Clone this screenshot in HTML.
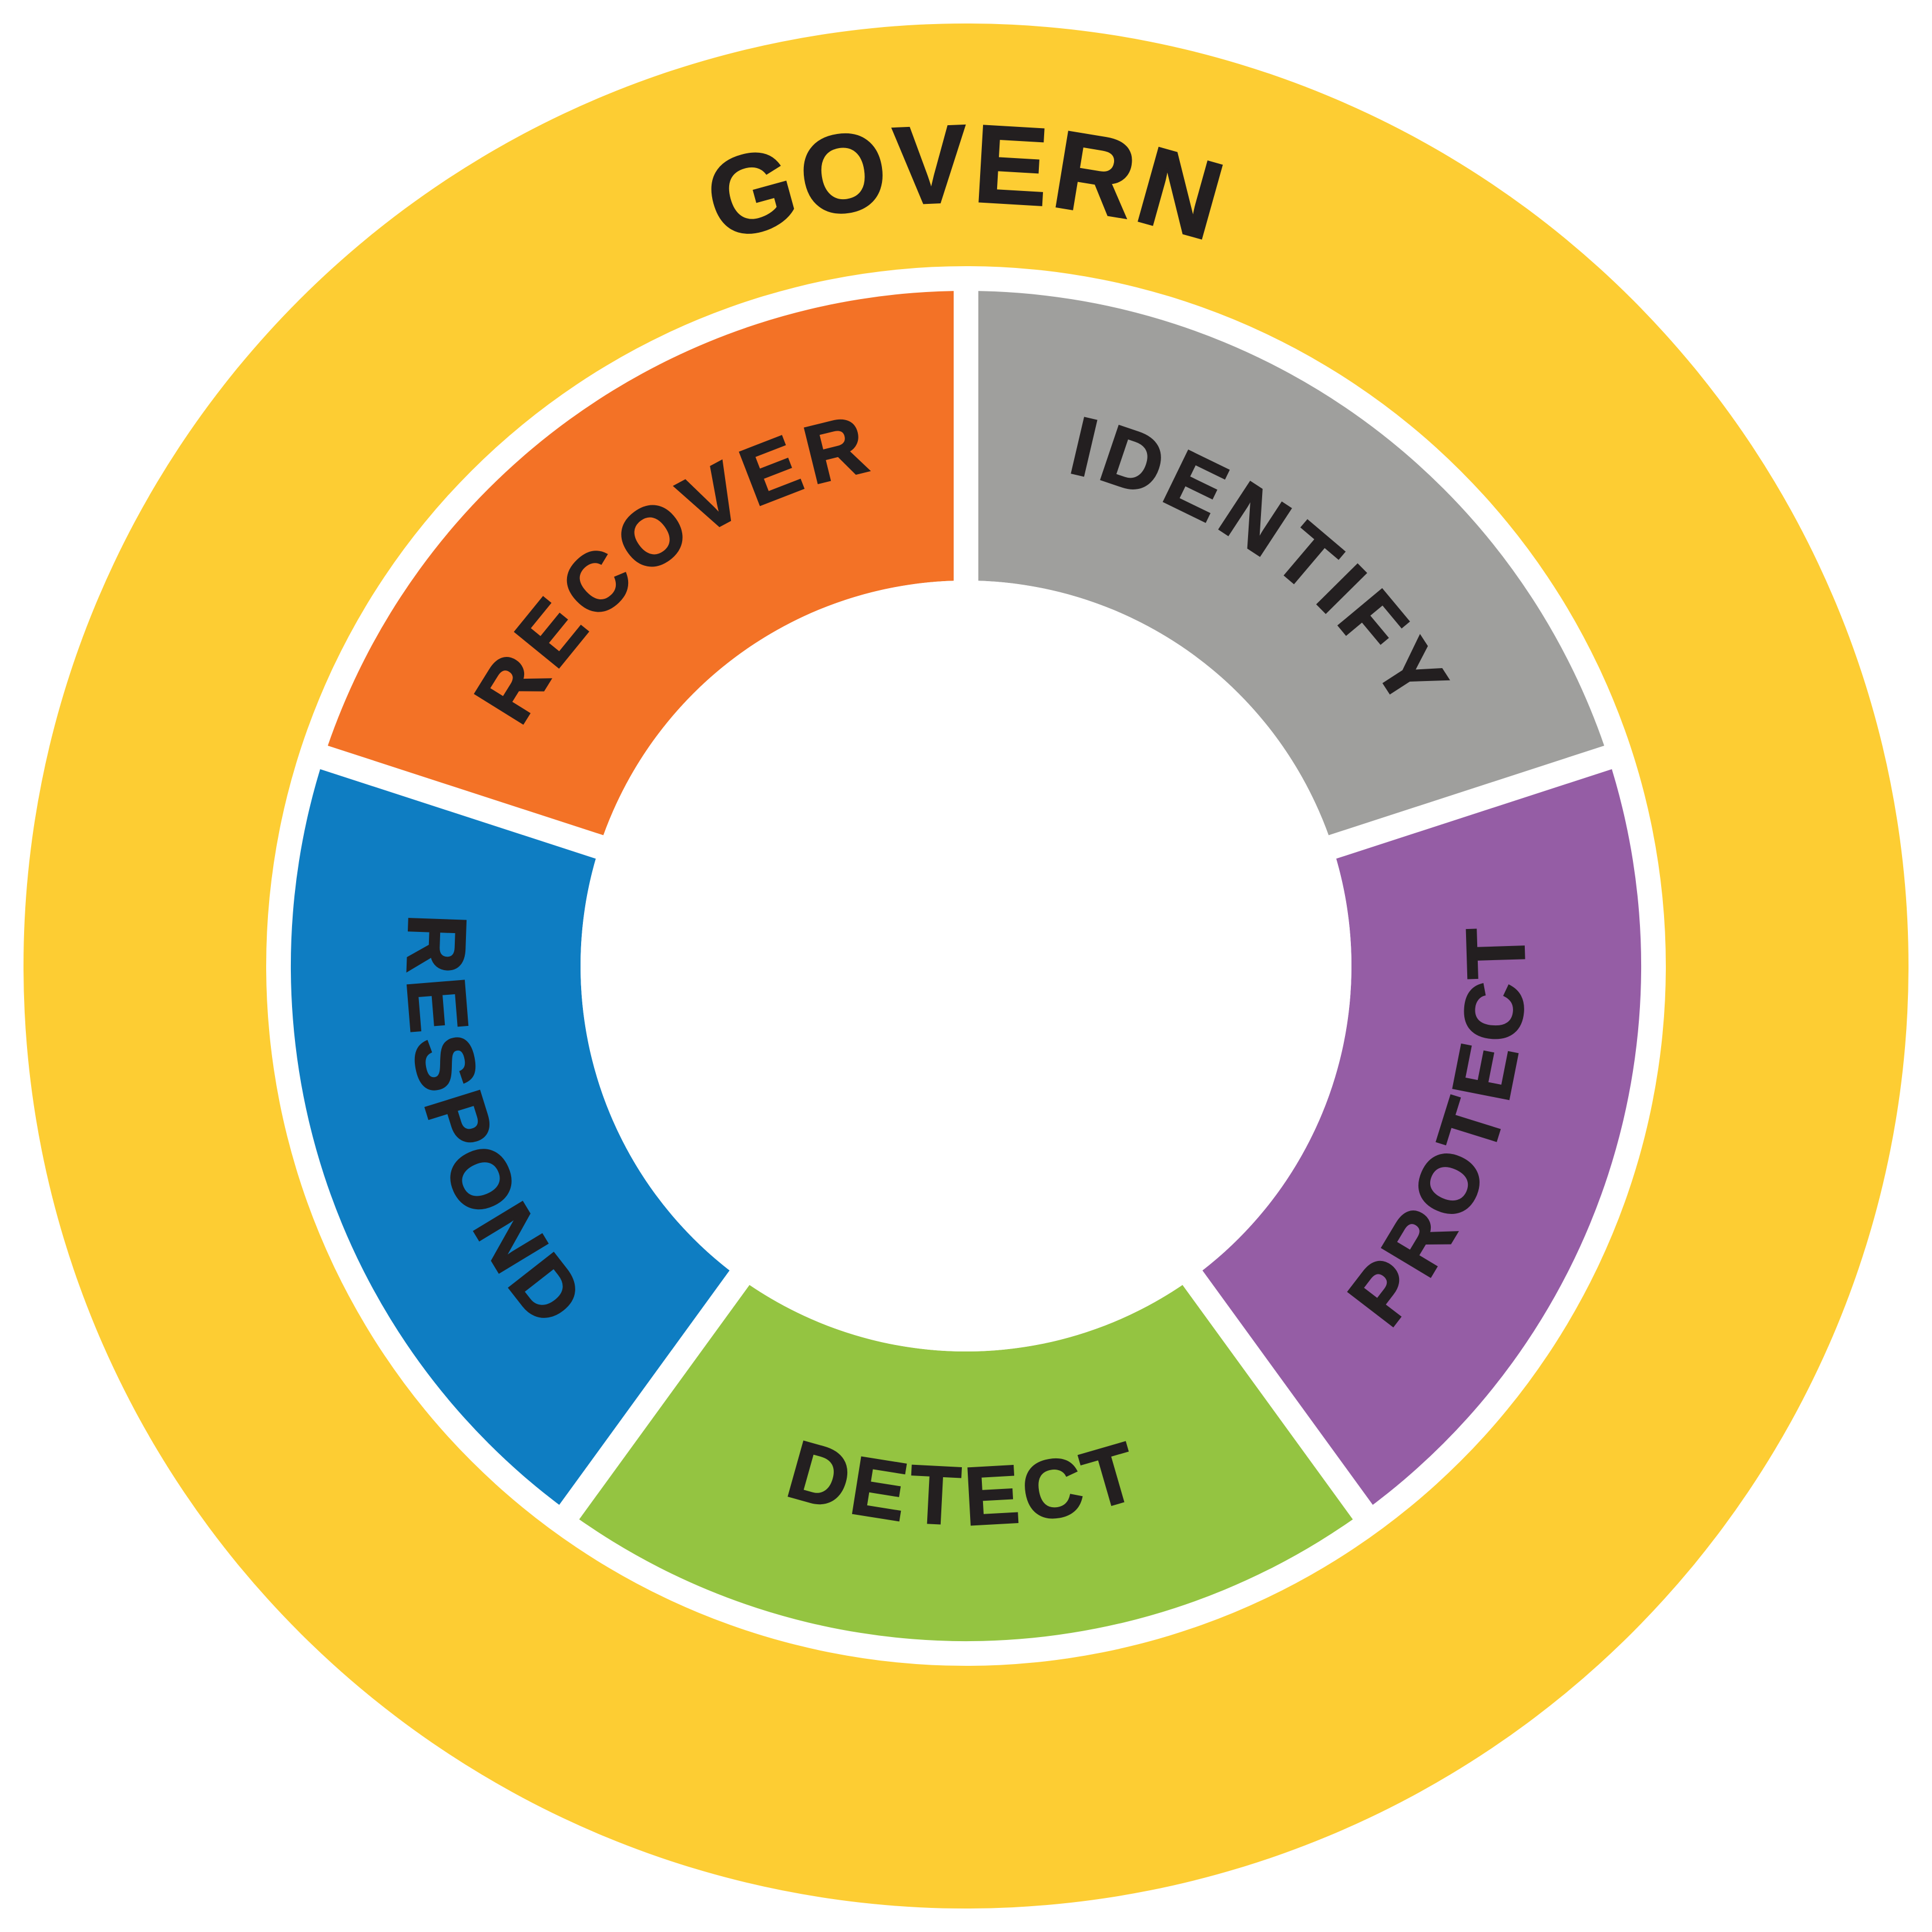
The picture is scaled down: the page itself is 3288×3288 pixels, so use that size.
<!DOCTYPE html>
<html><head><meta charset="utf-8"><style>
html,body{margin:0;padding:0;background:#fff;}
svg{display:block;}
text{font-family:"Liberation Sans",sans-serif;font-weight:bold;fill:#231F20;stroke:#231F20;stroke-width:3;}
</style></head><body>
<svg width="3288" height="3288" viewBox="0 0 3288 3288" xmlns="http://www.w3.org/2000/svg">
<defs>
<path id="cwG" d="M1644,2944 A1300,1300 0 1 1 1644,344 A1300,1300 0 1 1 1644,2944"/>
<path id="cwT" d="M1644,2502 A858,858 0 1 1 1644,786 A858,858 0 1 1 1644,2502"/>
<path id="ccwB" d="M1644,694 A950,950 0 1 0 1644,2594 A950,950 0 1 0 1644,694"/>
</defs>
<rect width="3288" height="3288" fill="#fff"/>
<circle cx="1644" cy="1644" r="1604" fill="#FDCD33"/>
<circle cx="1644" cy="1644" r="1191" fill="#fff"/>
<g transform="translate(1644,1644)">
<path d="M0,-1149 A1149,1149 0 0 1 1092.8,-355.1 L623.9,-202.7 A656,656 0 0 0 0,-656 Z" fill="#9F9F9D"/>
<path d="M1092.8,-355.1 A1149,1149 0 0 1 675.4,929.6 L385.6,530.7 A656,656 0 0 0 623.9,-202.7 Z" fill="#955DA5"/>
<path d="M675.4,929.6 A1149,1149 0 0 1 -675.4,929.6 L-385.6,530.7 A656,656 0 0 0 385.6,530.7 Z" fill="#94C441"/>
<path d="M-675.4,929.6 A1149,1149 0 0 1 -1092.8,-355.1 L-623.9,-202.7 A656,656 0 0 0 -385.6,530.7 Z" fill="#0E7DC2"/>
<path d="M-1092.8,-355.1 A1149,1149 0 0 1 0,-1149 L0,-656 A656,656 0 0 0 -623.9,-202.7 Z" fill="#F37226"/>
<g stroke="#fff" stroke-width="42">
<line x1="0" y1="0" x2="0" y2="-1170"/>
<line x1="0" y1="0" x2="1112.7" y2="-361.5"/>
<line x1="0" y1="0" x2="687.7" y2="946.5"/>
<line x1="0" y1="0" x2="-687.7" y2="946.5"/>
<line x1="0" y1="0" x2="-1112.7" y2="-361.5"/>
</g>
<circle r="656" fill="#fff"/>
</g>
<text font-size="188" letter-spacing="6"><textPath href="#cwG" startOffset="50%" text-anchor="middle">GOVERN</textPath></text>
<text font-size="140" letter-spacing="12"><textPath href="#cwT" startOffset="60%" text-anchor="middle">IDENTIFY</textPath></text>
<text font-size="140" letter-spacing="12"><textPath href="#cwT" startOffset="40%" text-anchor="middle">RECOVER</textPath></text>
<text font-size="140" letter-spacing="12"><textPath href="#ccwB" startOffset="70%" text-anchor="middle">PROTECT</textPath></text>
<text font-size="140" letter-spacing="12"><textPath href="#ccwB" startOffset="50%" text-anchor="middle">DETECT</textPath></text>
<text font-size="140" letter-spacing="12"><textPath href="#ccwB" startOffset="30%" text-anchor="middle">RESPOND</textPath></text>
</svg>
</body></html>
